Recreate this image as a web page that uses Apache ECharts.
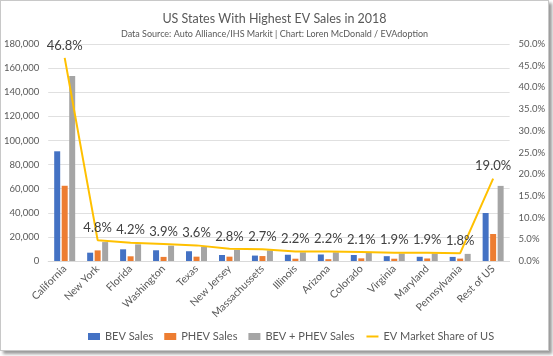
<!DOCTYPE html>
<html><head><meta charset="utf-8">
<script src="https://cdn.jsdelivr.net/npm/echarts@6/dist/echarts.min.js"></script>
<style>
html,body{margin:0;padding:0;background:#fff;}
#frame{position:absolute;left:0;top:0;width:547px;height:349px;border:1px solid #c8c8c8;box-shadow:3px 3px 3px #9a9a9a;background:#fff;}
#chart{width:547px;height:349px;}
</style></head>
<body><div id="frame"><div id="chart"></div></div>
<script>
const categories = ["California","New York","Florida","Washington","Texas","New Jersey","Massachussets","Illinois","Arizona","Colorado","Virginia","Maryland","Pennsylvania","Rest of US"];
const bevSales  = [91000, 6900, 9700, 8900, 8100, 5000, 4500, 5200, 5400, 5000, 4000, 3500, 3400, 39800];
const phevSales = [62400, 8800, 3900, 3400, 3600, 3600, 4100, 1900, 1500, 2200, 1900, 2100, 2000, 22400];
const totalSales = [153400, 15700, 13800, 12700, 11800, 9200, 8800, 7200, 7200, 6900, 6200, 6200, 5900, 62300];
const marketShare = [46.8, 4.8, 4.2, 3.9, 3.6, 2.8, 2.7, 2.2, 2.2, 2.1, 1.9, 1.9, 1.8, 19.0];

const FONT = "Lato, 'Open Sans', sans-serif";
const chart = echarts.init(document.getElementById('chart'));
const barCommon = {type:'bar', barWidth:6, barGap:'25%', barCategoryGap:'37%'};
chart.setOption({
  animation:false,
  textStyle:{fontFamily:FONT},
  title:{
    text:'US States With Highest EV Sales in 2018',
    subtext:'Data Source: Auto Alliance/IHS Markit | Chart: Loren McDonald / EVAdoption',
    left:'center', top:6, itemGap:5,
    textStyle:{fontFamily:FONT,fontSize:12.5,fontWeight:'normal',color:'#595959'},
    subtextStyle:{fontFamily:FONT,fontSize:9,color:'#595959'}
  },
  grid:{left:46, right:36, top:43, bottom:89},
  legend:{
    bottom:3, left:82, itemWidth:12, itemHeight:7, itemGap:11,
    textStyle:{fontFamily:FONT,fontSize:11,color:'#595959'},
    data:[{name:'BEV Sales',icon:'rect'},{name:'PHEV Sales',icon:'rect'},{name:'BEV + PHEV Sales',icon:'rect'},
          {name:'EV Market Share of US', itemStyle:{color:'transparent', borderWidth:0, opacity:0}}]
  },
  xAxis:{
    type:'category', data:categories,
    axisTick:{show:false},
    axisLine:{lineStyle:{color:'#d9d9d9'}},
    axisLabel:{rotate:45, interval:0, fontFamily:FONT, fontSize:10.5, color:'#595959', margin:6}
  },
  yAxis:[
    {type:'value', min:0, max:180000, interval:20000,
     axisLabel:{fontFamily:FONT,fontSize:9.5,color:'#595959', margin:9,
       formatter:v=>v.toLocaleString('en-US')},
     splitLine:{lineStyle:{color:'#e0e0e0'}}, axisLine:{show:false}, axisTick:{show:false}},
    {type:'value', min:0, max:50, interval:5,
     axisLabel:{fontFamily:FONT,fontSize:9.5,color:'#595959', margin:9,
       formatter:v=>v.toFixed(1)+'%'},
     splitLine:{show:false}, axisLine:{show:false}, axisTick:{show:false}}
  ],
  series:[
    Object.assign({name:'BEV Sales', data:bevSales, itemStyle:{color:'#4472C4'}}, barCommon),
    Object.assign({name:'PHEV Sales', data:phevSales, itemStyle:{color:'#ED7D31'}}, barCommon),
    Object.assign({name:'BEV + PHEV Sales', data:totalSales, itemStyle:{color:'#A5A5A5'}}, barCommon),
    {name:'EV Market Share of US', type:'line', yAxisIndex:1, data:marketShare,
     symbol:'circle', symbolSize:0.01, showSymbol:true, lineStyle:{color:'#FFC000', width:2}, itemStyle:{color:'#FFC000'},
     label:{show:true, position:'top', distance:6, fontFamily:FONT, fontSize:13, color:'#404040',
       formatter:p=>p.value.toFixed(1)+'%'}}
  ]
});
</script></body></html>
